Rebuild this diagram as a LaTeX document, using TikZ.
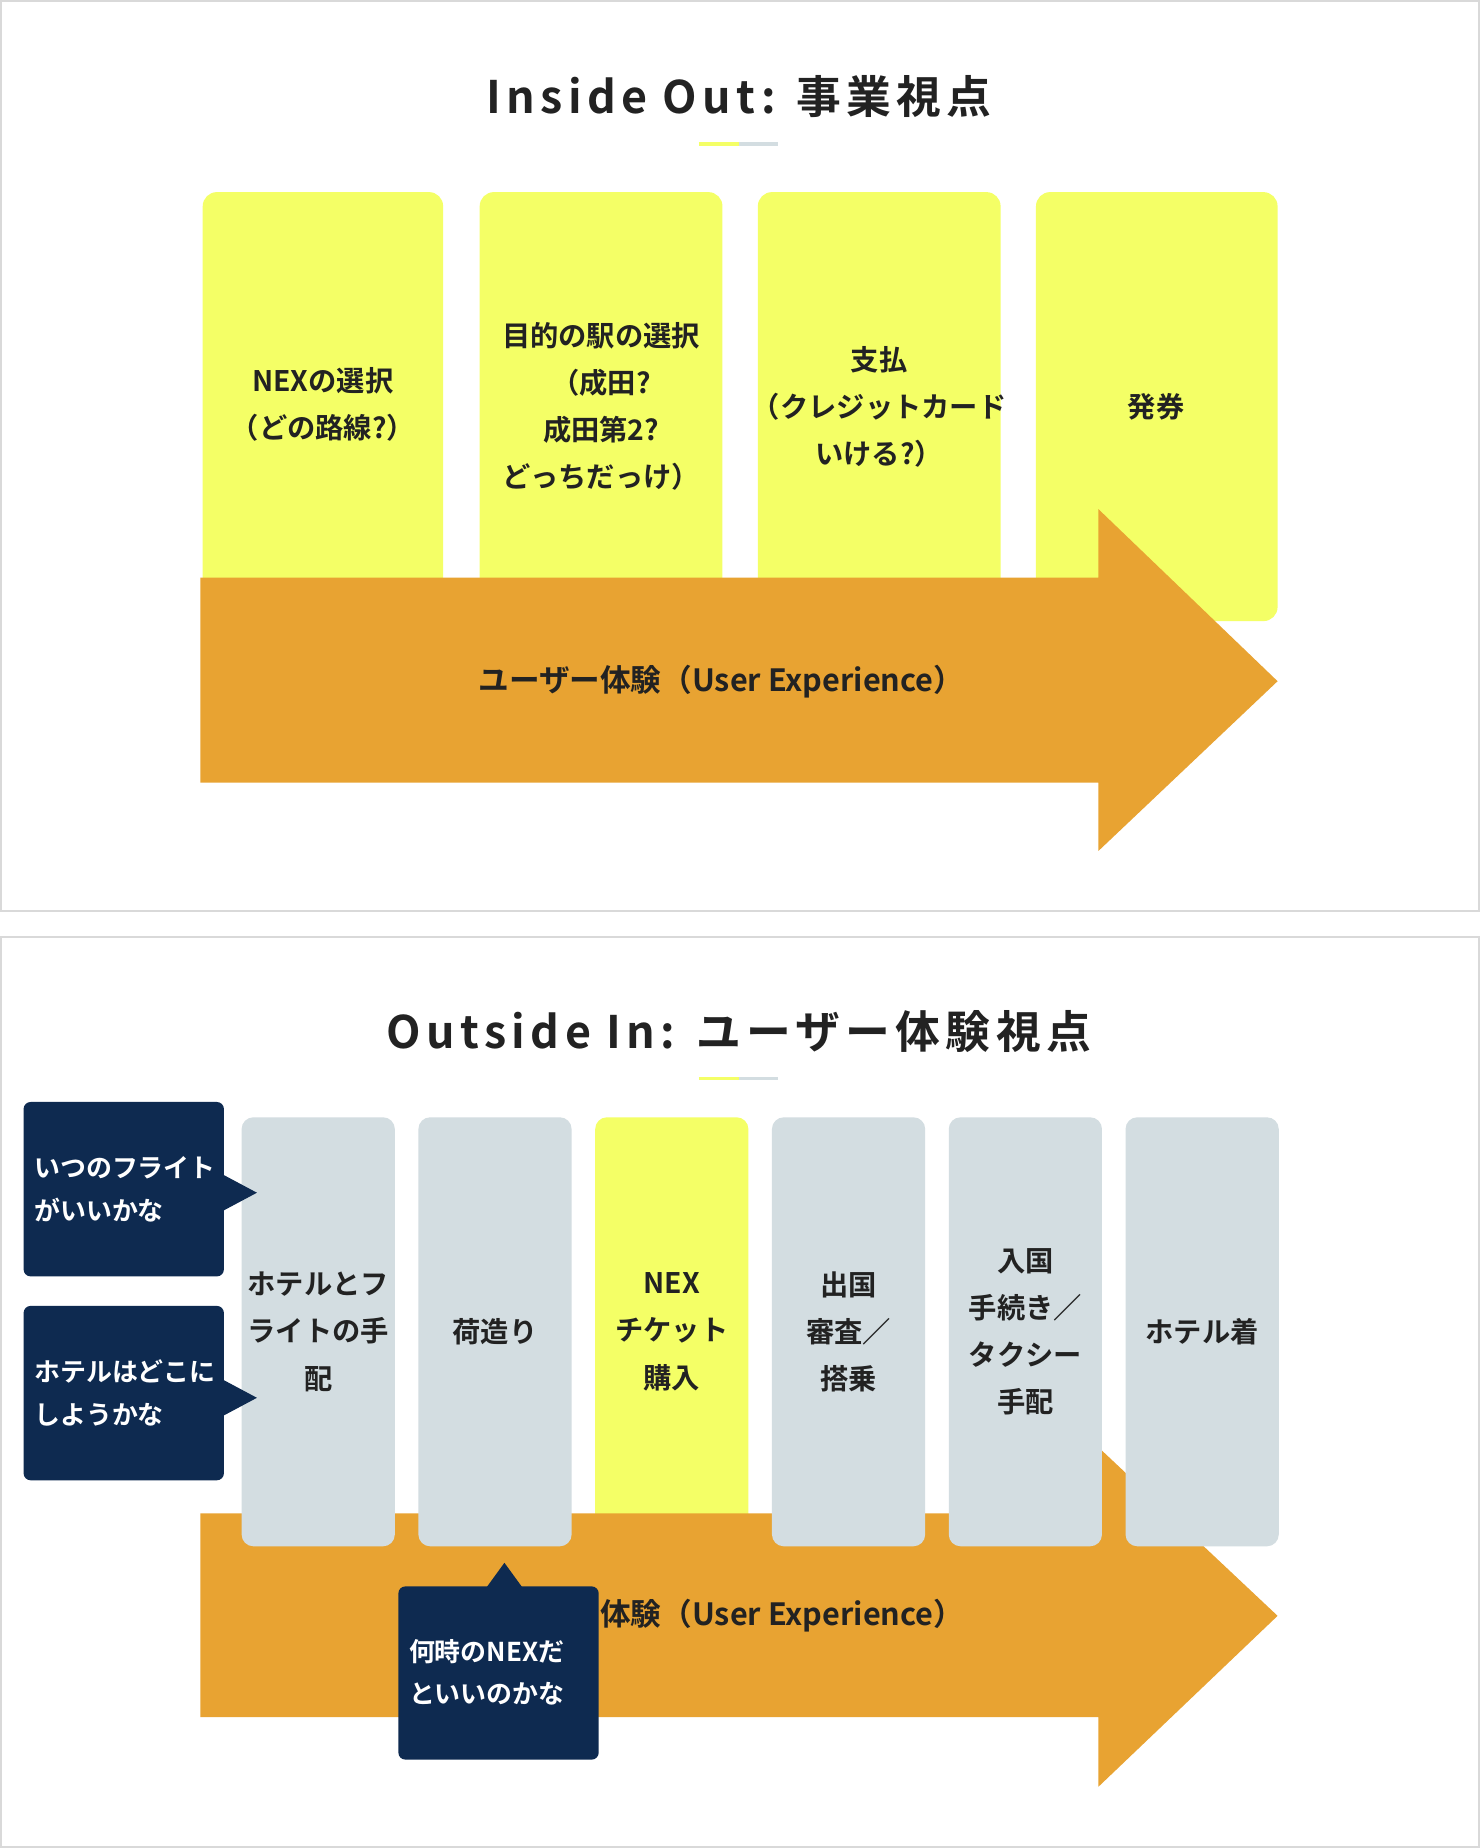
\documentclass[tikz,border=0pt]{standalone}
\usepackage{fontspec}
\setmainfont{Noto Sans CJK JP}[BoldFont={* Bold}]
\newfontfamily\titlefont{Noto Sans CJK JP}[BoldFont={* Bold},LetterSpace=12]
\definecolor{yel}{HTML}{F4FF66}
\definecolor{org}{HTML}{E8A332}
\definecolor{gry}{HTML}{D3DDE1}
\definecolor{nav}{HTML}{0E2A50}
\definecolor{ink}{HTML}{222222}
\begin{document}
\begin{tikzpicture}[x=0.5pt,y=-0.5pt,
  panel/.style={draw=black!15,line width=0.8pt,fill=white},
  ybox/.style={fill=yel,rounded corners=6pt},
  gbox/.style={fill=gry,rounded corners=5pt},
  boxtxt/.style={font=\bfseries\fontsize{12}{20}\selectfont,text=ink,align=center},
  arrtxt/.style={font=\bfseries\fontsize{13}{16}\selectfont,text=ink},
  ttl/.style={font=\titlefont\bfseries\fontsize{19}{22}\selectfont,text=ink},
  call/.style={fill=nav,rounded corners=3pt},
  calltxt/.style={font=\bfseries\fontsize{11}{18}\selectfont,text=white,align=left,anchor=west}]
\useasboundingbox (0,0) rectangle (1256,1568);
\fill[white] (0,0) rectangle (1256,1568);
% top panel
\draw[panel] (1,1) rectangle (1255,773);
\node[ttl] (t1) at (627,82) {Inside Out: 事業視点};
\draw[yel,line width=1.5pt] (593,122) -- (627,122);
\draw[gry,line width=1.5pt] (627,122) -- (660,122);
\fill[ybox] (172,163) rectangle (376,510);
\fill[ybox] (407,163) rectangle (613,510);
\fill[ybox] (643,163) rectangle (849,510);
\fill[ybox] (879,163) rectangle (1084,527);
\node[boxtxt] (a1) at (274,343) {NEXの選択\\（どの路線?）};
\node[boxtxt] (a2) at (510,345) {目的の駅の選択\\（成田?\\成田第2?\\どっちだっけ）};
\node[boxtxt] (a3) at (746,345) {支払\\（クレジットカード\\いける?）};
\node[boxtxt] (a4) at (981,345) {発券};
\fill[org] (170,490) -- (932,490) -- (932,432) -- (1084,578) -- (932,722) -- (932,664) -- (170,664) -- cycle;
\node[arrtxt] (ux1) at (612,578) {ユーザー体験（User Experience）};
% bottom panel
\draw[panel] (1,795) rectangle (1255,1567);
\node[ttl] (t2) at (627,875) {Outside In: ユーザー体験視点};
\draw[yel,line width=1.5pt] (593,915) -- (627,915);
\draw[gry,line width=1.5pt] (627,915) -- (660,915);
\fill[ybox,rounded corners=5pt] (505,948) rectangle (635,1300);
\fill[org] (170,1284) -- (932,1284) -- (932,1228) -- (1084,1371) -- (932,1516) -- (932,1457) -- (170,1457) -- cycle;
\node[arrtxt] (ux2) at (612,1371) {ユーザー体験（User Experience）};
\fill[gbox] (205,948) rectangle (335,1312);
\fill[gbox] (355,948) rectangle (485,1312);
\fill[gbox] (655,948) rectangle (785,1312);
\fill[gbox] (805,948) rectangle (935,1312);
\fill[gbox] (955,948) rectangle (1085,1312);
\node[boxtxt] (b1) at (270,1130) {ホテルとフ\\ライトの手\\配};
\node[boxtxt] (b2) at (420,1130) {荷造り};
\node[boxtxt] (b3) at (570,1130) {NEX\\チケット\\購入};
\node[boxtxt] (b4) at (720,1130) {出国\\審査／\\搭乗};
\node[boxtxt] (b5) at (870,1130) {入国\\手続き／\\タクシー\\手配};
\node[boxtxt] (b6) at (1020,1130) {ホテル着};
% callouts
\fill[call] (20,935) rectangle (190,1083);
\fill[nav] (188,996) -- (218,1012) -- (188,1028) -- cycle;
\node[calltxt] (c1) at (22,1009) {いつのフライト\\がいいかな};
\fill[call] (20,1108) rectangle (190,1256);
\fill[nav] (188,1170) -- (218,1186) -- (188,1202) -- cycle;
\node[calltxt] (c2) at (22,1182) {ホテルはどこに\\しようかな};
\fill[call] (338,1346) rectangle (508,1493);
\fill[nav] (412,1348) -- (428,1326) -- (444,1348) -- cycle;
\node[calltxt] (c3) at (340,1419) {何時のNEXだ\\といいのかな};
\end{tikzpicture}
\end{document}
